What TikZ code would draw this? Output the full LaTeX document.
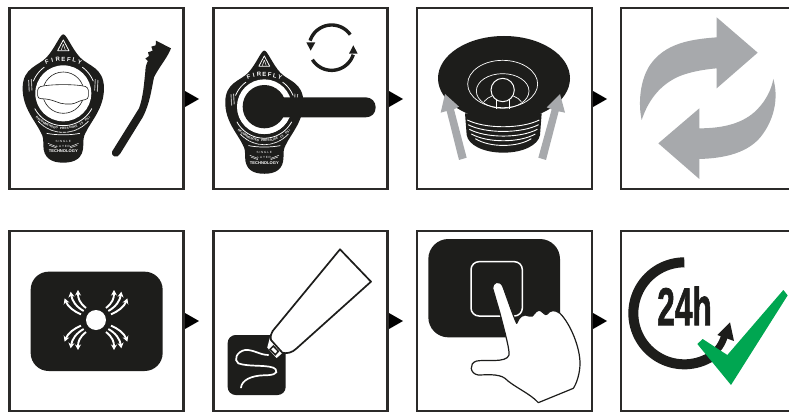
\documentclass[tikz,border=0pt]{standalone}
\usepackage{fontspec}
\usepackage{graphicx}
\setmainfont{Liberation Sans}
\newfontfamily\dayfont[FakeBold=1.6]{Liberation Sans Bold}
\usetikzlibrary{arrows.meta}
\definecolor{ink}{HTML}{1D1D1B}
\definecolor{framecol}{HTML}{2B2A29}
\definecolor{arrowgray}{HTML}{A7A9AC}
\definecolor{okgreen}{HTML}{00A651}
\tikzset{
  frame/.style={draw=framecol,line width=2.4pt,fill=white},
  stepmark/.style={fill=black,draw=none},
  whiteline/.style={draw=white,line width=.7pt},
  blackline/.style={draw=ink,line width=.6pt},
  thickwhite/.style={draw=white,line width=1.7pt,line cap=round},
  glyph/.style={inner sep=0pt,outer sep=0pt,text=white},
  ray/.style={draw=white,line width=1.9pt,-{Stealth[length=5.5pt,width=6pt]}},
  crop/.style={shift={(#1,0)},scale=1/3},
  croplow/.style={shift={(#1,220)},scale=1/3},
}
\newcommand{\toparc}[8]{% prefix cx cy r start step font list
  \foreach \c [count=\i] in {#8}{
    \pgfmathsetmacro{\th}{#5+(\i-1)*#6}
    \pgfmathsetmacro{\rt}{-(\th+90)}
    \node[glyph,rotate=\rt] (#1\i) at ({#2+#4*cos(\th)},{#3+#4*sin(\th)}) {#7\c};
  }}
\newcommand{\botarc}[8]{%
  \foreach \c [count=\i] in {#8}{
    \pgfmathsetmacro{\th}{#5+(\i-1)*#6}
    \pgfmathsetmacro{\rt}{90-\th}
    \node[glyph,rotate=\rt] (#1\i) at ({#2+#4*cos(\th)},{#3+#4*sin(\th)}) {#7\c};
  }}
\newcommand{\badge}[4]{% prefix, px x, px y, scale
\begin{scope}[shift={(#2,#3)},scale=#4/3]
  \fill[ink] (0,-167) .. controls (10,-167) and (25,-125) .. (50,-98)
    .. controls (74,-72) and (122,-68) .. (122,-5)
    .. controls (122,55) and (84,92) .. (67,128)
    .. controls (60,140) and (60,150) .. (60,165)
    .. controls (60,205) and (35,218) .. (0,218)
    .. controls (-35,218) and (-60,205) .. (-60,165)
    .. controls (-60,150) and (-60,140) .. (-67,128)
    .. controls (-84,92) and (-122,55) .. (-122,-5)
    .. controls (-122,-68) and (-74,-72) .. (-50,-98)
    .. controls (-25,-125) and (-10,-167) .. (0,-167) -- cycle;
  % warning triangle logo
  \draw[white,line width=.8pt,line join=round] (0,-150) -- (-17,-118) -- (17,-118) -- cycle;
  \draw[white,line width=.5pt] (0,-138) -- (-6,-120) (0,-138) -- (6,-120);
  % rings
  \fill[white] (0,10) circle (84);
  \draw[white,line width=.8pt] plot[domain=36:68,samples=20] ({97*sin(\x)},{10-97*cos(\x)});
  \draw[white,line width=.8pt] plot[domain=-68:-36,samples=20] ({97*sin(\x)},{10-97*cos(\x)});
  \draw[white,line width=.8pt] plot[domain=118:242,samples=30] ({97*sin(\x)},{10-97*cos(\x)});
  % tiny illegible side and rim lettering, as texture
  \draw[white,line width=.9pt,dash pattern=on .5pt off .5pt] (-104,-30) -- (-102,5) (-96,-32) -- (-94,2);
  \draw[white,line width=.9pt,dash pattern=on .5pt off .5pt] (104,-30) -- (102,5) (96,-32) -- (94,2);
  \draw[white,line width=.8pt,dash pattern=on .4pt off .4pt] plot[domain=42:138,samples=30] ({101*cos(\x)},{26+101*sin(\x)});
  \toparc{#1f}{0}{51}{144}{-110}{6.67}{\fontsize{6}{7}\selectfont\bfseries}{F,I,R,E,F,L,Y}
  \botarc{#1r}{0}{4}{111}{135}{-3.46}{\fontsize{3.1}{4}\selectfont\bfseries}{R,E,C,O,M,M,E,N,D,E,D,{},P,R,E,S,S,U,R,E,{},1,5,{},P,S,I}
  \draw[white,line width=.7pt] (-50,130) .. controls (-20,136) and (20,136) .. (50,130);
  \node[glyph] (#1single) at (0,153) {\fontsize{3}{3.5}\selectfont S I N G L E};
  \node[glyph] (#1layer) at (0,168) {\fontsize{3}{3.5}\selectfont L A Y E R};
  \draw[white,line width=.4pt] (-46,160) -- (-20,170) (46,160) -- (20,170) (-42,166) -- (-20,174) (42,166) -- (20,174);
  \node[glyph] (#1tech) at (0,184) {\fontsize{4.1}{5}\selectfont\bfseries TECHNOLOGY};
\end{scope}}
\begin{document}
\begin{tikzpicture}[x=1pt,y=-1pt]
\useasboundingbox (0,0) rectangle (789,412);
\clip (0,0) rectangle (789,412);
\fill[white] (0,0) rectangle (789,412);
% frames
\foreach \a/\b in {9.5/183.3,213.3/387.3,416.7/591.7,620.7/800}{
  \path[frame] (\a,8.2) rectangle (\b,189);
  \path[frame] (\a,231) rectangle (\b,410.7);
}
% step markers
\foreach \a in {185,389,593}{
  \fill[stepmark] (\a,91) -- (\a+14,99) -- (\a,107) -- cycle;
  \fill[stepmark] (\a,313) -- (\a+14,321) -- (\a,329) -- cycle;
}
% ---- panel 1
\badge{one}{63.3}{90}{1}
\begin{scope}[crop=0]
  \draw[blackline] (190,278) circle (62);
  \draw[blackline,fill=white,rounded corners=3pt] (113,262) .. controls (150,252) and (230,252) .. (265,262)
    -- (265,298) .. controls (240,300) and (225,312) .. (205,312) .. controls (175,312) and (160,296) .. (113,296) -- cycle;
  \fill[ink] (468,122) -- (513,145) -- (510,152) .. controls (500,175) and (475,205) .. (462,232)
     .. controls (455,265) and (450,310) .. (428,352) -- (360,462)
     .. controls (352,476) and (332,470) .. (336,455) -- (417,325)
     .. controls (430,290) and (432,250) .. (436,215) .. controls (436,200) and (440,190) .. (444,183)
     -- (436,176) -- (447,168) -- (444,157) -- (458,152) -- (454,140) -- (467,136) -- cycle;
\end{scope}
% ---- panel 2
\badge{two}{264.3}{104}{.96}
\begin{scope}[crop=205]
  \fill[white] (178,320) circle (82);
  \fill[ink] (178,320) circle (65);
  \fill[ink] (178,292) -- (482,292) .. controls (500,292) and (512,305) .. (512,322)
     .. controls (512,340) and (500,352) .. (482,352) -- (178,352) -- cycle;
  \draw[ink,line width=3.4pt] plot[domain=198:325,samples=40] ({380+68*cos(\x)},{143+68*sin(\x)});
  \draw[ink,line width=3.4pt] plot[domain=18:148,samples=40] ({380+68*cos(\x)},{143+68*sin(\x)});
  \fill[ink] (304,127) -- (331,127) -- (317,152) -- cycle;
  \fill[ink] (445,136) -- (458,161) -- (432,161) -- cycle;
\end{scope}
% ---- panel 3
\begin{scope}[crop=410]
  \fill[ink] (165,340) -- (395,340) -- (390,405) .. controls (385,435) and (340,458) .. (280,458) .. controls (220,458) and (175,435) .. (170,405) -- cycle;
  \foreach \y/\w in {360/108,374/106,388/102,402/96,416/84}{
    \draw[white,line width=.9pt] (280-\w,\y) .. controls (280-\w/2,\y+27) and (280+\w/2,\y+27) .. (280+\w,\y);
  }
  \fill[ink] (282,235) ellipse [x radius=198,y radius=127];
  \draw[whiteline] (278,252) ellipse [x radius=105,y radius=71];
  \draw[whiteline] (278,273) ellipse [x radius=79,y radius=52];
  \draw[whiteline,line width=1pt] (278,270) circle (35);
  \draw[whiteline] (258,296) -- (258,326) (298,296) -- (298,326);
  \draw[whiteline] (222,305) .. controls (228,297) and (236,292) .. (246,288);
  \draw[whiteline] (334,305) .. controls (328,297) and (320,292) .. (310,288);
  \fill[arrowgray] (147,480) -- (170,473) -- (132,328) -- (147,320) -- (105,282) -- (92,338) -- (110,333) -- cycle;
  \fill[arrowgray] (385,473) -- (408,480) -- (446,334) -- (465,338) -- (450,282) -- (410,322) -- (425,328) -- cycle;
\end{scope}
% ---- panel 4
\begin{scope}[crop=610]
  \fill[arrowgray] (443,158) -- (320,52) -- (320,112)
    .. controls (240,118) and (165,130) .. (120,195) .. controls (90,240) and (84,310) .. (95,360)
    .. controls (115,300) and (150,255) .. (205,230) .. controls (240,215) and (285,208) .. (320,205)
    -- (320,265) -- cycle;
  \fill[arrowgray] (145,430) -- (268,325) -- (268,385)
    .. controls (340,385) and (400,370) .. (440,330) .. controls (470,300) and (485,265) .. (490,237)
    .. controls (505,290) and (495,350) .. (460,400) .. controls (420,460) and (340,475) .. (268,477)
    -- (268,537) -- cycle;
\end{scope}
% ---- panel 5
\begin{scope}[croplow=0]
  \fill[ink,rounded corners=18pt] (92,155) rectangle (488,453);
  \fill[white] (288,300) circle (30);
  \foreach \sx/\sy in {1/1,-1/1,1/-1,-1/-1}{
    \begin{scope}[shift={(288,300)},xscale=\sx,yscale=\sy]
      \draw[ray] (30,-36) .. controls (50,-52) and (54,-65) .. (54,-90);
      \draw[ray] (37,-27) .. controls (60,-40) and (72,-58) .. (76,-85);
      \draw[ray] (45,-17) .. controls (65,-25) and (85,-40) .. (94,-65);
    \end{scope}
  }
\end{scope}
% ---- panel 6
\begin{scope}[croplow=205]
  \fill[ink,rounded corners=8pt] (68,345) rectangle (242,525);
  \draw[white,line width=2pt,fill=white] (200,345) -- (232,395) -- (215,410) -- (190,382) -- cycle;
  \draw[ink,line width=1.7pt,fill=white,line join=round] (405,88) -- (498,185) -- (275,385)
     .. controls (262,398) and (245,402) .. (232,398) -- (198,360) .. controls (196,348) and (198,340) .. (203,333) -- cycle;
  \draw[ink,line width=1.5pt,fill=white] (205,378) -- (220,394) -- (211,404) -- (195,388) -- cycle;
  \draw[thickwhite] (108,503) .. controls (110,480) and (140,467) .. (175,466)
    .. controls (200,466) and (222,462) .. (212,448) .. controls (200,432) and (130,442) .. (100,430)
    .. controls (85,420) and (95,395) .. (120,390) .. controls (145,388) and (165,405) .. (190,405);
\end{scope}
% ---- panel 7
\begin{scope}[croplow=410]
  \fill[ink,rounded corners=20pt] (55,57) rectangle (450,352);
  \draw[white,line width=1.5pt,rounded corners=8pt] (183,125) rectangle (337,288);
  \draw[ink,line width=1.2pt,fill=white,line join=round] (248,205)
     .. controls (246,188) and (268,178) .. (278,198) .. controls (290,230) and (310,290) .. (320,310)
     .. controls (325,300) and (328,288) .. (345,285) .. controls (355,285) and (360,292) .. (367,288)
     .. controls (375,280) and (380,268) .. (392,272) .. controls (400,276) and (405,288) .. (412,282)
     .. controls (420,270) and (435,268) .. (450,280)
     .. controls (480,310) and (510,380) .. (510,430) .. controls (510,460) and (500,490) .. (490,505)
     -- (385,548) .. controls (360,520) and (310,500) .. (285,475) .. controls (265,460) and (225,465) .. (205,465)
     .. controls (180,462) and (175,430) .. (200,423) .. controls (225,418) and (290,430) .. (297,405)
     .. controls (300,390) and (280,320) .. (270,280) -- cycle;
\end{scope}
% ---- panel 8
\begin{scope}[croplow=610]
  \draw[ink,line width=10pt] plot[domain=-90:-310,samples=60] ({223+153*cos(\x)},{280+153*sin(\x)});
  \draw[ink,line width=7pt] (310,400) .. controls (328,385) and (340,365) .. (346,338);
  \fill[ink] (360,307) -- (372,363) -- (322,345) -- cycle;
  \node[inner sep=0pt,outer sep=0pt,text=ink] (day) at (223.5,257.5) {\resizebox{54.5pt}{38.5pt}{\dayfont 24h}};
  \fill[okgreen] (262,372) -- (278,357) -- (352,405) -- (520,210) -- (533,226) -- (363,495) -- cycle;
\end{scope}
\end{tikzpicture}
\end{document}
